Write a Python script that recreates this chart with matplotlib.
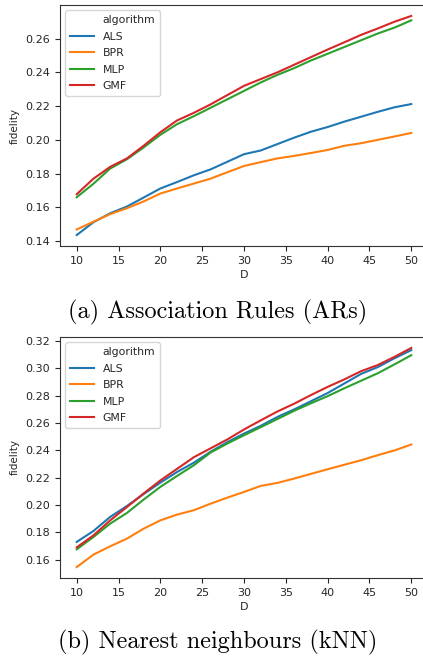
import matplotlib
matplotlib.use('Agg')
import matplotlib.pyplot as plt
from matplotlib.lines import Line2D

D = list(range(10, 51, 2))
algorithms = ['ALS', 'BPR', 'MLP', 'GMF']
colors = ['#1f77b4', '#ff7f0e', '#2ca02c', '#d62728']

# (a) association rules
ar_als = [.1436, .1512, .1565, .1605, .1658, .1712, .1750, .1790, .1825, .1870, .1915,
          .1937, .1975, .2013, .2048, .2076, .2108, .2137, .2166, .2193, .2212]
ar_bpr = [.1469, .1515, .1560, .1595, .1635, .1682, .1712, .1741, .1770, .1808, .1845,
          .1868, .1890, .1905, .1922, .1940, .1965, .1980, .2000, .2020, .2041]
ar_mlp = [.1660, .1740, .1830, .1885, .1955, .2030, .2093, .2140, .2190, .2240, .2290,
          .2340, .2385, .2425, .2470, .2510, .2550, .2590, .2630, .2665, .2708]
ar_gmf = [.1678, .1770, .1840, .1890, .1965, .2045, .2115, .2160, .2210, .2265, .2320,
          .2360, .2400, .2445, .2490, .2535, .2578, .2622, .2660, .2700, .2734]

# (b) nearest neighbours
knn_als = [.1730, .1810, .1913, .1993, .2080, .2164, .2242, .2310, .2390, .2460, .2523,
           .2580, .2645, .2700, .2760, .2820, .2890, .2960, .3010, .3075, .3134]
knn_bpr = [.1546, .1637, .1698, .1754, .1827, .1888, .1930, .1962, .2010, .2054, .2096,
           .2140, .2162, .2194, .2228, .2262, .2295, .2328, .2365, .2400, .2443]
knn_mlp = [.1676, .1766, .1864, .1942, .2040, .2133, .2213, .2291, .2384, .2450, .2511,
           .2570, .2630, .2690, .2745, .2797, .2855, .2910, .2965, .3030, .3097]
knn_gmf = [.1690, .1778, .1888, .1985, .2085, .2180, .2265, .2350, .2415, .2480, .2553,
           .2620, .2685, .2742, .2805, .2865, .2920, .2980, .3025, .3085, .3150]

captions = ['(a) Association Rules (ARs)', '(b) Nearest neighbours (kNN)']

plt.rcParams['font.size'] = 8
plt.rcParams['text.color'] = '0.15'
plt.rcParams['axes.labelcolor'] = '0.15'
plt.rcParams['xtick.color'] = '0.15'
plt.rcParams['ytick.color'] = '0.15'
plt.rcParams['axes.edgecolor'] = '0.2'

W, H = 423, 662
fig = plt.figure(figsize=(W / 100, H / 100), dpi=100)


def panel(top, bottom, series, yticks):
    ax = fig.add_axes([60 / W, 1 - bottom / H, 368 / W, (bottom - top) / H])
    for vals, name, c in zip(series, algorithms, colors):
        ax.plot(D, vals, color=c, lw=1.5, label=name)
    ax.set_xlim(8, 52)
    ax.set_xticks([10, 15, 20, 25, 30, 35, 40, 45, 50])
    ax.set_yticks(yticks)
    ax.set_xlabel('D', labelpad=3)
    ax.set_ylabel('fidelity', fontsize=7.5)
    handles = [Line2D([], [], color='none')] + ax.get_lines()
    labels = ['algorithm'] + algorithms
    ax.legend(handles, labels, loc='upper left', fontsize=7.8, framealpha=0.8,
              borderpad=0.45, labelspacing=0.6, handlelength=2.2)
    return ax


ax1 = panel(5, 246, [ar_als, ar_bpr, ar_mlp, ar_gmf], [0.14, 0.16, 0.18, 0.20, 0.22, 0.24, 0.26])
ymin = min(min(s) for s in [ar_als, ar_bpr, ar_mlp, ar_gmf])
ymax = max(max(s) for s in [ar_als, ar_bpr, ar_mlp, ar_gmf])
pad = (ymax - ymin) * 0.05
ax1.set_ylim(ymin - pad, ymax + pad)

ax2 = panel(337, 578, [knn_als, knn_bpr, knn_mlp, knn_gmf],
            [0.16, 0.18, 0.20, 0.22, 0.24, 0.26, 0.28, 0.30, 0.32])
ymin = min(min(s) for s in [knn_als, knn_bpr, knn_mlp, knn_gmf])
ymax = max(max(s) for s in [knn_als, knn_bpr, knn_mlp, knn_gmf])
pad = (ymax - ymin) * 0.05
ax2.set_ylim(ymin - pad, ymax + pad)

fig.text(218 / W, 1 - 312 / H, captions[0], family='cmr10', fontsize=17.5,
         color='black', ha='center', va='center')
fig.text(218 / W, 1 - 642 / H, captions[1], family='cmr10', fontsize=17.5,
         color='black', ha='center', va='center')

fig.savefig('out.png', dpi=100)
